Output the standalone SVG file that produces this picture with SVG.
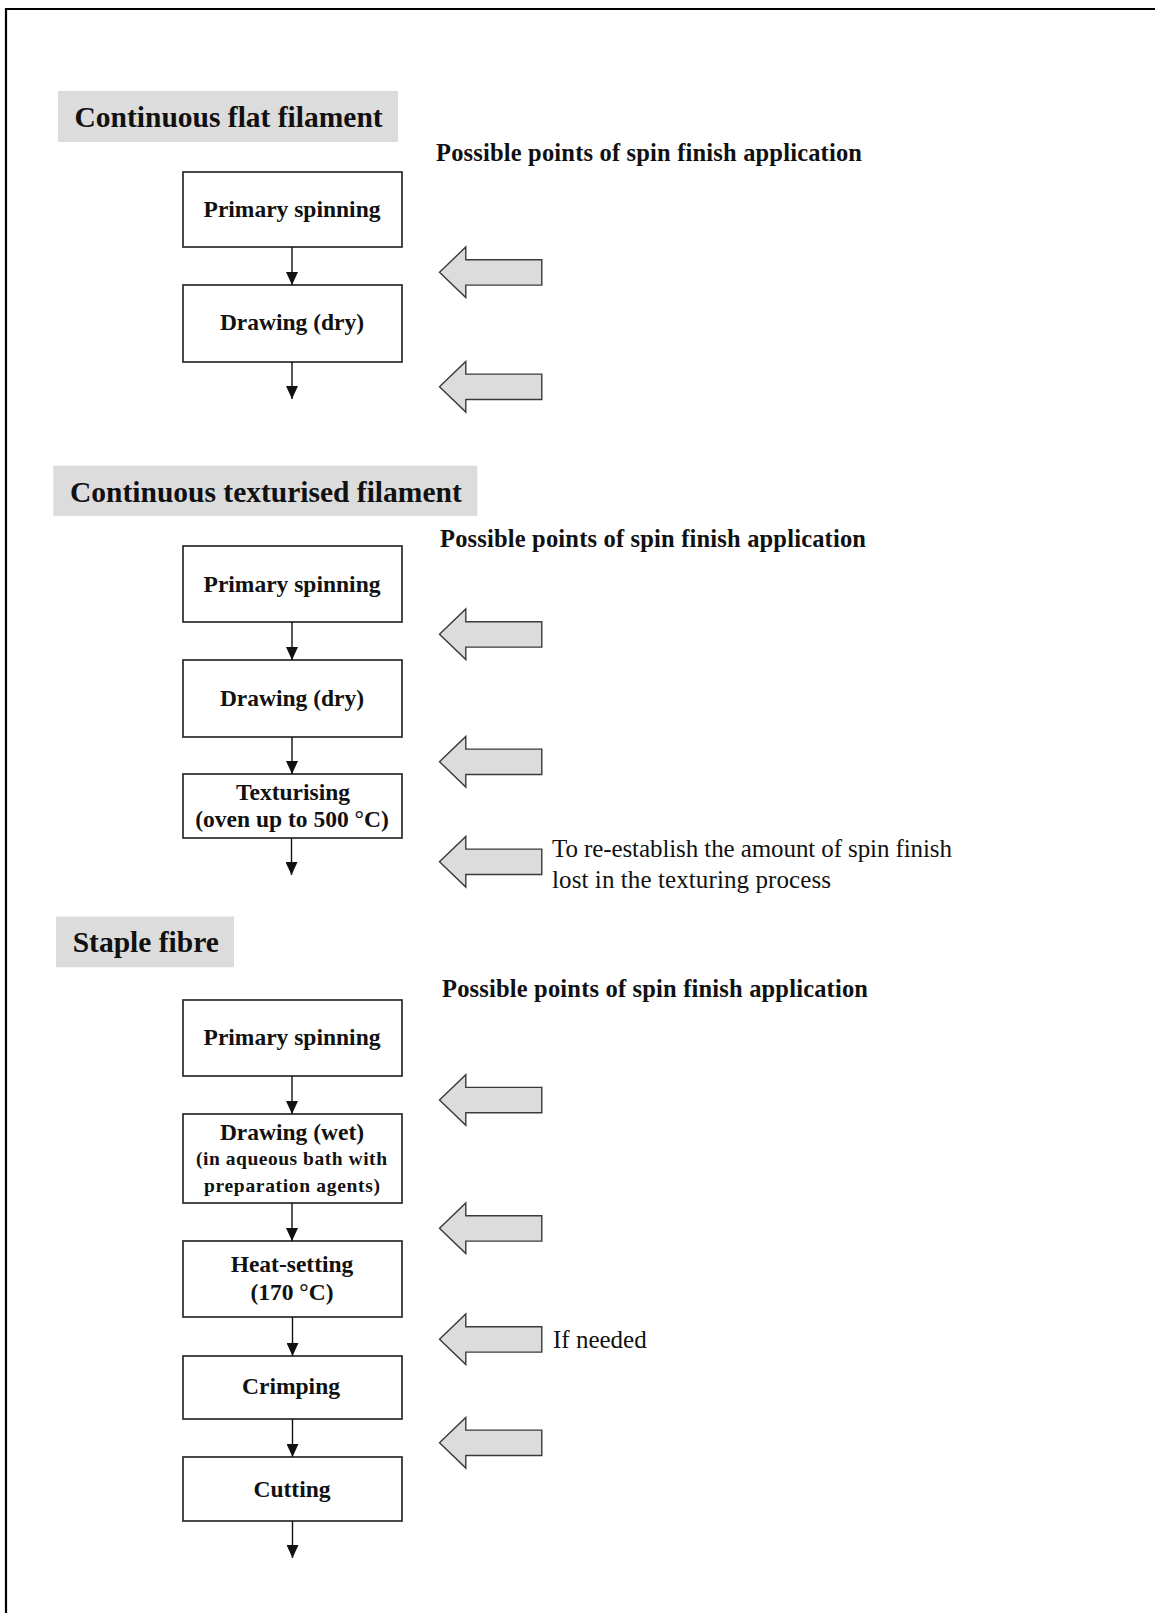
<svg xmlns="http://www.w3.org/2000/svg" width="1155" height="1613" viewBox="0 0 1155 1613">
<style>
.frame{stroke:#000;stroke-width:2.2;fill:none}
.tbg{fill:#dcdcdc}
.title{font-family:"Liberation Serif","Times New Roman",serif;font-weight:bold;font-size:29.5px;fill:#111}
.hdr{font-family:"Liberation Serif","Times New Roman",serif;font-weight:bold;font-size:24.5px;fill:#111}
.box{fill:#fff;stroke:#2a2a2a;stroke-width:1.7}
.bt{font-family:"Liberation Serif","Times New Roman",serif;font-weight:bold;font-size:23.5px;fill:#111;text-anchor:middle}
.bs{font-family:"Liberation Serif","Times New Roman",serif;font-weight:bold;font-size:19.5px;fill:#111;text-anchor:middle}
.note{font-family:"Liberation Serif","Times New Roman",serif;font-size:25px;fill:#111}
.conn{stroke:#111;stroke-width:1.4;fill:none}
.barrow{fill:#dcdcdc;stroke:#3a3a3a;stroke-width:1.4;stroke-linejoin:miter}
</style>
<defs>
<marker id="ah" viewBox="0 0 13 12" refX="13" refY="6" markerWidth="13" markerHeight="12" markerUnits="userSpaceOnUse" orient="auto">
<path d="M0,0 L13,6 L0,12 Z" fill="#111"/>
</marker>
<path id="blk" d="M0,0 L26.3,-25.3 L26.3,-12.6 L102.3,-12.6 L102.3,12.8 L26.3,12.8 L26.3,25.3 Z"/>
</defs>
<rect width="1155" height="1613" fill="#fff"/>
<path class="frame" d="M6,1613 L6,9 L1155,9"/>

<g id="section1">
<rect class="tbg" x="58" y="91" width="340" height="51"/>
<text class="title" x="74.5" y="126.7">Continuous flat filament</text>
<text class="hdr" x="436" y="160.7" textLength="426" lengthAdjust="spacing">Possible points of spin finish application</text>
</g>
<g id="s1-primary-spinning"><rect class="box" x="183" y="172" width="219" height="75"/><text class="bt" x="292" y="217">Primary spinning</text></g>
<g id="s1-drawing-dry"><rect class="box" x="183" y="285" width="219" height="77"/><text class="bt" x="292" y="330">Drawing (dry)</text></g>
<g id="s1-arrow1"><use href="#blk" class="barrow" x="439.5" y="272.3"/></g>
<g id="s1-arrow2"><use href="#blk" class="barrow" x="439.5" y="386.7"/></g>

<g id="section2">
<rect class="tbg" x="53.3" y="465.7" width="424" height="50.3"/>
<text class="title" x="70" y="501.7">Continuous texturised filament</text>
<text class="hdr" x="440" y="546.7" textLength="426" lengthAdjust="spacing">Possible points of spin finish application</text>
</g>
<g id="s2-primary-spinning"><rect class="box" x="183" y="546" width="219" height="76"/><text class="bt" x="292" y="592">Primary spinning</text></g>
<g id="s2-drawing-dry"><rect class="box" x="183" y="660" width="219" height="77"/><text class="bt" x="292" y="706">Drawing (dry)</text></g>
<g id="s2-texturising"><rect class="box" x="183" y="774" width="219" height="64"/><text class="bt" x="293" y="800">Texturising</text><text class="bt" x="292" y="827">(oven up to 500 °C)</text></g>
<g id="s2-arrow1"><use href="#blk" class="barrow" x="439.5" y="634.3"/></g>
<g id="s2-arrow2"><use href="#blk" class="barrow" x="439.5" y="761.7"/></g>
<g id="s2-arrow3"><use href="#blk" class="barrow" x="439.5" y="861.7"/>
<text class="note" x="552" y="856.7" textLength="400" lengthAdjust="spacing">To re-establish the amount of spin finish</text>
<text class="note" x="552" y="887.7" textLength="279" lengthAdjust="spacing">lost in the texturing process</text></g>

<g id="section3">
<rect class="tbg" x="56" y="916.5" width="178" height="50.8"/>
<text class="title" x="72.7" y="952.3">Staple fibre</text>
<text class="hdr" x="442" y="996.7" textLength="426" lengthAdjust="spacing">Possible points of spin finish application</text>
</g>
<g id="s3-primary-spinning"><rect class="box" x="183" y="1000" width="219" height="76"/><text class="bt" x="292" y="1045">Primary spinning</text></g>
<g id="s3-drawing-wet"><rect class="box" x="183" y="1114" width="219" height="89"/><text class="bt" x="292" y="1140">Drawing (wet)</text>
<text class="bs" x="291.5" y="1165" textLength="191" lengthAdjust="spacing">(in aqueous bath with</text>
<text class="bs" x="292" y="1191.7" textLength="176" lengthAdjust="spacing">preparation agents)</text></g>
<g id="s3-heat-setting"><rect class="box" x="183" y="1241" width="219" height="76"/><text class="bt" x="292" y="1271.7">Heat-setting</text><text class="bt" x="292" y="1300">(170 °C)</text></g>
<g id="s3-crimping"><rect class="box" x="183" y="1356" width="219" height="63"/><text class="bt" x="291" y="1394">Crimping</text></g>
<g id="s3-cutting"><rect class="box" x="183" y="1457" width="219" height="64"/><text class="bt" x="292" y="1497">Cutting</text></g>
<g id="s3-arrow1"><use href="#blk" class="barrow" x="439.5" y="1100"/></g>
<g id="s3-arrow2"><use href="#blk" class="barrow" x="439.5" y="1228.3"/></g>
<g id="s3-arrow3"><use href="#blk" class="barrow" x="439.5" y="1339.3"/><text class="note" x="553" y="1348.3">If needed</text></g>
<g id="s3-arrow4"><use href="#blk" class="barrow" x="439.5" y="1442.7"/></g>

<g id="connectors">
<line class="conn" x1="292" y1="247" x2="292" y2="285" marker-end="url(#ah)"/>
<line class="conn" x1="292" y1="362" x2="292" y2="399" marker-end="url(#ah)"/>
<line class="conn" x1="292" y1="622" x2="292" y2="660" marker-end="url(#ah)"/>
<line class="conn" x1="292" y1="737" x2="292" y2="774" marker-end="url(#ah)"/>
<line class="conn" x1="291.5" y1="838" x2="291.5" y2="875" marker-end="url(#ah)"/>
<line class="conn" x1="292" y1="1076" x2="292" y2="1114" marker-end="url(#ah)"/>
<line class="conn" x1="292" y1="1203" x2="292" y2="1241" marker-end="url(#ah)"/>
<line class="conn" x1="292.5" y1="1317" x2="292.5" y2="1356" marker-end="url(#ah)"/>
<line class="conn" x1="292.5" y1="1419" x2="292.5" y2="1457" marker-end="url(#ah)"/>
<line class="conn" x1="292.5" y1="1521" x2="292.5" y2="1558" marker-end="url(#ah)"/>
</g>
</svg>
